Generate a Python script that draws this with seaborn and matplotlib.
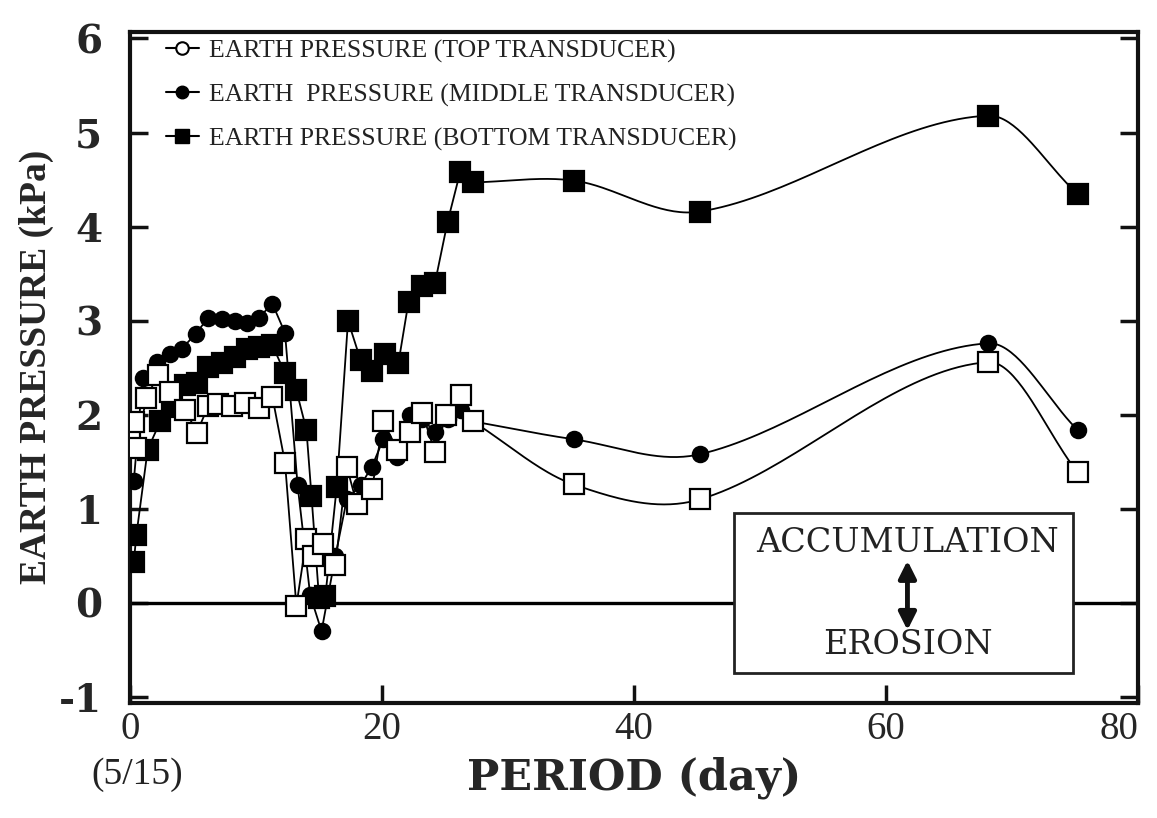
import numpy as np
import pandas as pd
import matplotlib
matplotlib.use("Agg")
import matplotlib.pyplot as plt
from matplotlib.lines import Line2D
from matplotlib.patches import Rectangle
import seaborn as sns

# -------- data --------
top_day = [0.0, 0.3, 0.5, 1.3, 2.2, 3.2, 4.4, 5.3, 6.2, 7.0, 8.1, 9.1, 10.2, 11.3, 12.3,
           13.2, 14.0, 14.5, 15.3, 16.3, 17.2, 18.0, 19.2, 20.1, 21.2, 22.2, 23.2, 24.2,
           25.1, 26.3, 27.2, 35.2, 45.2, 68.1, 75.2]
top_kpa = [1.78, 1.92, 1.65, 2.18, 2.42, 2.24, 2.05, 1.81, 2.09, 2.12, 2.09, 2.13, 2.07,
           2.19, 1.49, -0.03, 0.68, 0.50, 0.63, 0.40, 1.45, 1.05, 1.21, 1.93, 1.63, 1.82,
           2.02, 1.60, 2.00, 2.21, 1.93, 1.26, 1.10, 2.56, 1.39]

mid_day = [0.3, 1.0, 2.1, 3.2, 4.1, 5.2, 6.2, 7.3, 8.3, 9.3, 10.2, 11.3, 12.3, 13.3, 14.3,
           15.2, 16.3, 17.2, 18.3, 19.2, 20.1, 21.2, 22.2, 23.2, 24.2, 25.2, 26.3, 27.2,
           35.2, 45.2, 68.1, 75.2]
mid_kpa = [1.30, 2.39, 2.56, 2.65, 2.70, 2.86, 3.03, 3.02, 3.00, 2.98, 3.03, 3.18, 2.87,
           1.25, 0.08, -0.30, 0.50, 1.10, 1.25, 1.45, 1.74, 1.55, 2.00, 1.95, 1.82, 1.95,
           2.05, 1.93, 1.74, 1.58, 2.76, 1.84]

bot_day = [0.3, 0.5, 1.4, 2.4, 3.3, 4.4, 5.3, 6.2, 7.3, 8.3, 9.3, 10.2, 11.3, 12.3, 13.2,
           14.0, 14.4, 15.0, 15.5, 16.4, 17.3, 18.3, 19.2, 20.2, 21.3, 22.1, 23.2, 24.2,
           25.2, 26.2, 27.2, 35.2, 45.2, 68.1, 75.2]
bot_kpa = [0.44, 0.72, 1.63, 1.93, 2.08, 2.32, 2.34, 2.51, 2.55, 2.61, 2.70, 2.72, 2.74,
           2.44, 2.26, 1.84, 1.14, 0.05, 0.07, 1.23, 3.00, 2.58, 2.47, 2.65, 2.55, 3.20,
           3.37, 3.40, 4.05, 4.58, 4.47, 4.49, 4.16, 5.18, 4.35]

labels = ["EARTH PRESSURE (TOP TRANSDUCER)",
          "EARTH  PRESSURE (MIDDLE TRANSDUCER)",
          "EARTH PRESSURE (BOTTOM TRANSDUCER)"]
SMOOTH_FROM = 27.2   # after this day the original draws a smooth curve

sns.set_theme(style="white")
plt.rcParams["font.family"] = ["Liberation Serif", "DejaVu Serif"]
plt.rcParams["text.color"] = "#222222"
plt.rcParams["axes.unicode_minus"] = False


def smooth_curve(x, y, n=40):
    # cubic Hermite through the points, tangents from neighbouring points
    x = np.asarray(x, float)
    y = np.asarray(y, float)
    m = len(x)
    t = np.zeros(m)
    t[0] = (y[1] - y[0]) / (x[1] - x[0])
    t[-1] = (y[-1] - y[-2]) / (x[-1] - x[-2])
    t[1:-1] = (y[2:] - y[:-2]) / (x[2:] - x[:-2])
    xs_all, ys_all = [], []
    for i in range(m - 1):
        h = x[i + 1] - x[i]
        s = np.linspace(0, 1, n)
        h00 = 2 * s**3 - 3 * s**2 + 1
        h10 = s**3 - 2 * s**2 + s
        h01 = -2 * s**3 + 3 * s**2
        h11 = s**3 - s**2
        xs_all.append(x[i] + s * h)
        ys_all.append(h00 * y[i] + h10 * h * t[i] + h01 * y[i + 1] + h11 * h * t[i + 1])
    return np.concatenate(xs_all), np.concatenate(ys_all)


fig = plt.figure(figsize=(11.57, 8.18), dpi=100)
ax = fig.add_axes([0.1124, 0.141, 0.8712, 0.820])

ax.axhline(0, color="black", lw=2.4, zorder=1)

series = [
    (bot_day, bot_kpa, "s", "black", 15),
    (mid_day, mid_kpa, "o", "black", 11),
    (top_day, top_kpa, "s", "white", 15),
]
z = 3
for days, kpa, mk, fc, ms in series:
    df = pd.DataFrame({"day": days, "kpa": kpa})
    early = df[df["day"] <= SMOOTH_FROM]
    late = df[df["day"] >= SMOOTH_FROM]
    sns.lineplot(data=early, x="day", y="kpa", sort=False, estimator=None,
                 color="black", lw=1.3, ax=ax, zorder=z)
    xs, ys = smooth_curve(late["day"], late["kpa"])
    sns.lineplot(x=xs, y=ys, sort=False, estimator=None, color="black", lw=1.3,
                 ax=ax, zorder=z)
    ax.plot(df["day"], df["kpa"], ls="none", marker=mk, ms=ms, mfc=fc,
            mec="black", mew=1.6, zorder=z + 1)
    z += 2

# legend (the original shows an open circle for the top transducer)
handles = [
    Line2D([], [], color="black", lw=1.5, marker="o", ms=9, mfc="white", mec="black", mew=1.5),
    Line2D([], [], color="black", lw=1.5, marker="o", ms=9, mfc="black", mec="black"),
    Line2D([], [], color="black", lw=1.5, marker="s", ms=10, mfc="black", mec="black"),
]
ax.legend(handles, labels, loc="upper left", bbox_to_anchor=(0.02, 1.012), frameon=False,
          fontsize=18.5, handlelength=1.3, handletextpad=0.4, labelspacing=0.8,
          borderaxespad=0.2)

# accumulation / erosion box
ax.add_patch(Rectangle((47.9, -0.74), 26.9, 1.70, facecolor="white", edgecolor="#222222",
                       lw=2, zorder=10))
ax.text(61.7, 0.64, "ACCUMULATION", ha="center", va="center", fontsize=24,
        family="DejaVu Serif", zorder=11)
ax.text(61.7, -0.45, "EROSION", ha="center", va="center", fontsize=24,
        family="DejaVu Serif", zorder=11)
ax.annotate("", xy=(61.7, -0.29), xytext=(61.7, 0.45),
            arrowprops=dict(arrowstyle="<|-|>", lw=3.5, color="#111111",
                            mutation_scale=26, shrinkA=0, shrinkB=0), zorder=11)

ax.set_xlim(0, 80)
ax.set_ylim(-1.06, 6.07)
ax.set_xticks([0, 20, 40, 60, 80])
ax.set_yticks(range(-1, 7))

for s in ax.spines.values():
    s.set_linewidth(3)
    s.set_color("#111111")
ax.tick_params(axis="both", direction="in", length=13, width=2.5, color="#111111",
               right=True, top=False, bottom=True, left=True)
ax.tick_params(axis="y", pad=20)
ax.tick_params(axis="x", pad=6)
for t in ax.get_yticklabels():
    t.set_family("DejaVu Serif")
    t.set_fontweight("bold")
    t.set_fontsize(28)
for t in ax.get_xticklabels():
    t.set_fontsize(28)
ax.get_xticklabels()[-1].set_horizontalalignment("right")

ax.set_ylabel("EARTH PRESSURE (kPa)", fontsize=27, fontweight="bold")
ax.yaxis.set_label_coords(-0.075, 0.5)
ax.set_xlabel("PERIOD (day)", fontsize=31, fontweight="bold", family="DejaVu Serif",
              labelpad=6)
ax.text(0.6, -0.107, "(5/15)", transform=ax.get_xaxis_transform(), ha="center",
        va="center", fontsize=27)

ax.grid(False)
fig.savefig("out.png", dpi=100, facecolor="white")
